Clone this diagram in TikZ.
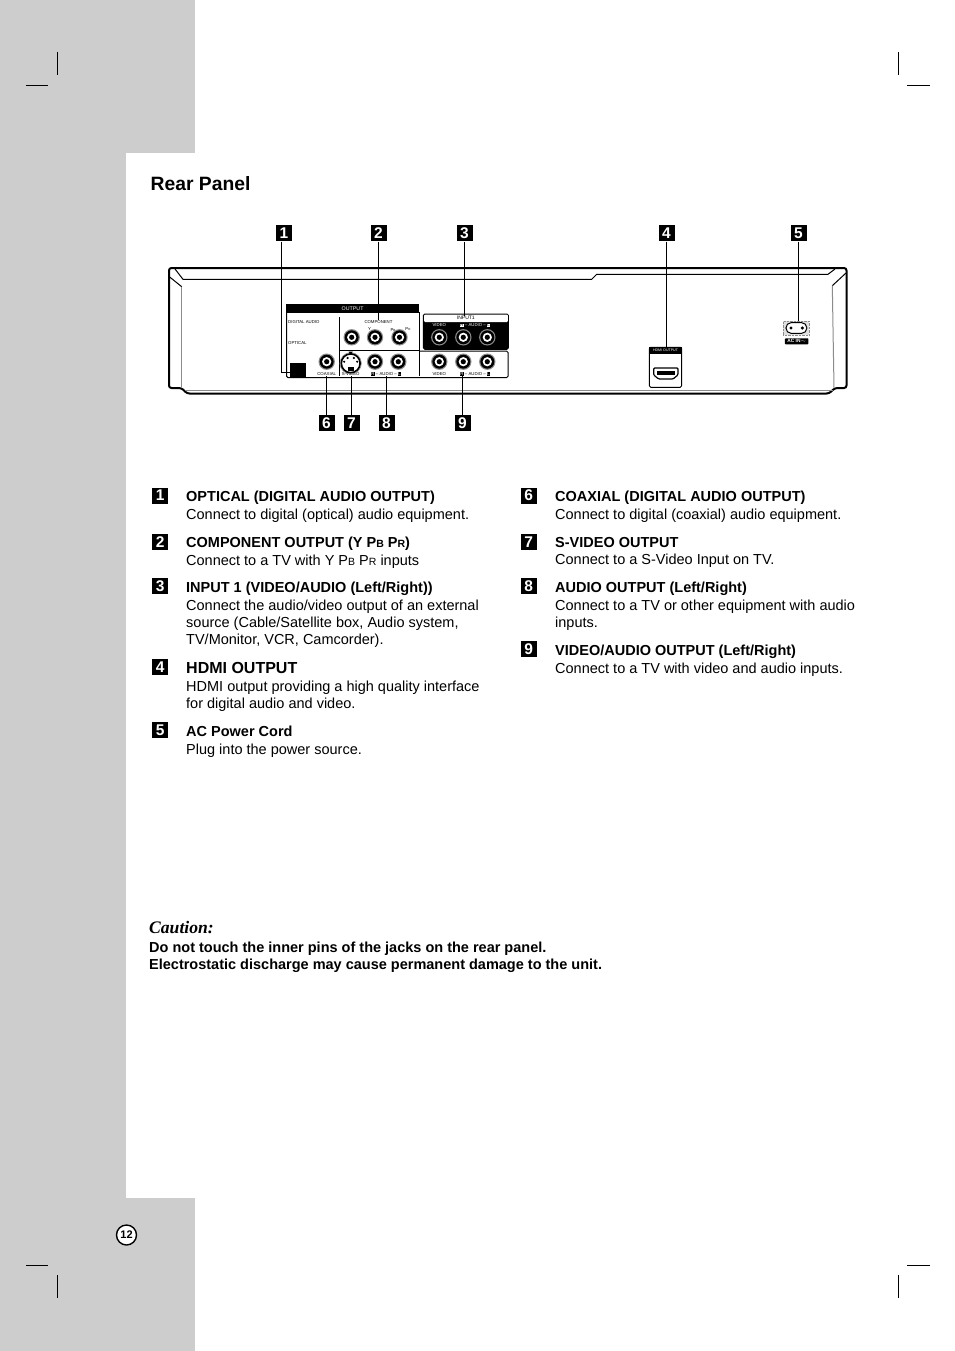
\documentclass[tikz,border=0pt]{standalone}
\usepackage{fontspec}
\setmainfont{Liberation Sans}
\newfontfamily\cautionfont{Liberation Serif}
\usetikzlibrary{positioning}
\definecolor{sidegray}{HTML}{CDCDCD}
\colorlet{ringgray}{black!45}
\newcommand{\smcap}[1]{{\fontsize{10.5}{10.5}\selectfont #1}}
\newcommand{\chbk}[1]{{\setlength{\fboxsep}{.35pt}\colorbox{black}{\textcolor{white}{#1}}}}
\newcommand{\chwh}[1]{{\setlength{\fboxsep}{.35pt}\colorbox{white}{\textcolor{black}{#1}}}}
\tikzset{
  numtag/.style={fill=black,text=white,minimum size=16pt,inner sep=0pt,font=\fontsize{15.5}{16}\selectfont\bfseries},
  itemtext/.style={anchor=north west,inner sep=0pt,align=left,font=\fontsize{14.5}{17.3}\selectfont},
  tinylabel/.style={inner sep=0pt,font=\fontsize{4.3}{5}\selectfont},
  tagline/.style={line width=1pt},
  panelline/.style={line width=1pt},
  cropmark/.style={line width=.7pt},
  jack/.pic={
    \fill[ringgray] (0,0) circle (8.2);
    \fill[black] (0,0) circle (7);
    \fill[white] (0,0) circle (4.6);
    \fill[black] (0,0) circle (2.6);
  }
}
\begin{document}
\begin{tikzpicture}[x=1pt,y=-1pt]
\useasboundingbox (0,0) rectangle (954,1351);
\fill[white] (0,0) rectangle (954,1351);
\fill[sidegray] (0,0) rectangle (126,1351);
\fill[sidegray] (126,0) rectangle (195,153);
\fill[sidegray] (126,1198) rectangle (195,1351);
% crop marks
\draw[cropmark] (57.5,52) -- (57.5,75);
\draw[cropmark] (26,85) -- (48,85);
\draw[cropmark] (898.5,52) -- (898.5,75);
\draw[cropmark] (907,85) -- (930,85);
\draw[cropmark] (26,1265) -- (48,1265);
\draw[cropmark] (57.5,1275) -- (57.5,1298);
\draw[cropmark] (907,1265) -- (930,1265);
\draw[cropmark] (898.5,1275) -- (898.5,1298);
\node[anchor=base west,inner sep=0pt,font=\fontsize{19.3}{19}\selectfont\bfseries] (title) at (150.5,190) {Rear Panel};
% chassis
\draw[line width=2pt,rounded corners=2.5] (187,393.5) -- (181.5,388) -- (169,388) -- (169,268) -- (846.5,268) -- (846.5,388) -- (835,388) -- (829,393.5) -- cycle;
\draw[panelline] (175,269) -- (183,279.3) -- (591.7,279.3) -- (596.7,274.3) -- (828,274.3) -- (835,269);
\draw[panelline] (169.3,276.7) -- (181.7,286.7);
\draw[panelline] (846,273) -- (832.3,285.7);
\draw[panelline,ringgray] (181.7,286.7) -- (181.7,388);
\draw[panelline,ringgray] (832.3,285.7) -- (834,388);
\draw[panelline,ringgray] (185,390.3) -- (833,390.3);
% output block
\draw[panelline,rounded corners=1.5] (286.5,312) -- (286.5,377.7) -- (508,377.7) -- (508,351) -- (419.3,351);
\draw[panelline] (339.3,317) -- (339.3,376);
\draw[panelline] (339.3,350) -- (419.3,350);
\draw[panelline] (419.3,312) -- (419.3,376);
\node[fill=black,text=white,minimum width=133.5pt,minimum height=8.7pt,inner sep=0pt,font=\fontsize{5.3}{6}\selectfont] (outputhead) at (352.6,308.4) {OUTPUT};
\node[tinylabel,anchor=west] (digital) at (288,321.7) {DIGITAL AUDIO};
\node[tinylabel,anchor=west] (optlabel) at (288,343) {OPTICAL};
\node[tinylabel] (component) at (378.5,321.7) {COMPONENT};
\node[tinylabel] (ylabel) at (369.5,329) {Y};
\node[tinylabel] (pblabel) at (393,330) {P\smcap{\fontsize{3}{3}\selectfont B}};
\node[tinylabel] (prlabel) at (408,329) {P\smcap{\fontsize{3}{3}\selectfont R}};
\node[tinylabel] (coaxlabel) at (326.7,374) {COAXIAL};
\node[tinylabel] (svideolabel) at (350.7,374) {S-VIDEO};
\node[tinylabel] (audiolabel) at (386,374) {\chbk{R} -- AUDIO -- \chbk{L}};
\node[tinylabel] (videolabel) at (439.3,374) {VIDEO};
\node[tinylabel] (audiotwo) at (475,374) {\chbk{R} -- AUDIO -- \chbk{L}};
\node[draw=black,fill=black,minimum width=15.5pt,minimum height=13.5pt,inner sep=0pt] (optical) at (297.5,369.7) {};
\pic at (351.7,337.3) {jack};
\pic at (375,337.3) {jack};
\pic at (399.5,337.3) {jack};
\pic at (326.7,361.7) {jack};
\pic at (375,361.7) {jack};
\pic at (398.3,361.7) {jack};
\pic at (439.3,361.7) {jack};
\pic at (463.3,361.7) {jack};
\pic at (487.3,361.7) {jack};
% s-video
\draw[fill=white,line width=1.8pt] (350.7,363.3) circle (9.5);
\draw[ringgray,line width=.6pt] (350.7,363.3) circle (10.7);
\fill (348.5,351.5) -- (352.9,351.5) -- (350.7,354.5) -- cycle;
\fill (347.6,367) rectangle (353.8,371);
\fill (344.2,361.7) circle (1.2);
\fill (357.2,361.7) circle (1.2);
\fill (347.6,358) circle (1.2);
\fill (353.8,358) circle (1.2);
% input block
\draw[panelline,fill=black,rounded corners=1.5] (423.3,314) rectangle (508.3,349.3);
\fill[white,rounded corners=1] (424,314.5) rectangle (507.8,322);
\node[tinylabel,font=\fontsize{5}{6}\selectfont] (inputhead) at (465.8,318.2) {INPUT1};
\node[tinylabel,text=white] (videoin) at (439.3,325.5) {VIDEO};
\node[tinylabel,text=white] (audioin) at (475,325.5) {\chwh{R} -- AUDIO -- \chwh{L}};
\pic at (439.3,337.3) {jack};
\pic at (463.3,337.3) {jack};
\pic at (487.3,337.3) {jack};
% hdmi
\draw[panelline,rounded corners=1.5] (649.3,347.3) rectangle (681.7,387.3);
\node[fill=black,text=white,minimum width=32.4pt,minimum height=6.7pt,inner sep=0pt,font=\fontsize{3.6}{4}\selectfont] (hdmihead) at (665.5,350.7) {HDMI OUTPUT};
\draw[line width=1.2pt,fill=white,rounded corners=1] (653.7,368) -- (677.9,368) -- (677.9,375) -- (673,379) -- (658.6,379) -- (653.7,375) -- cycle;
\fill (657,370.8) rectangle (674.6,374.6);
% ac inlet
\node[draw=ringgray,densely dotted,fill=black!12,minimum width=26pt,minimum height=13.4pt,inner sep=0pt] (acbox) at (796.3,328) {};
\draw[line width=1pt,fill=white] (791.3,322.6) -- (801.5,322.6) arc (-90:90:5.4) -- (791.3,333.4) arc (90:270:5.4) -- cycle;
\fill (791,328) circle (1.7);
\fill (802.3,328) circle (1.7);
\node[fill=black,text=white,rounded corners=.8,minimum width=23.5pt,minimum height=6pt,inner sep=0pt,font=\fontsize{4.8}{5}\selectfont\bfseries] (aclabel) at (796.7,341.3) {AC IN$\sim$};
% number tags on the panel
\node[numtag] (tag1) at (284,233.3) {1};
\node[numtag] (tag2) at (378.5,233.3) {2};
\node[numtag] (tag3) at (464.5,233.3) {3};
\node[numtag] (tag4) at (666.5,233.3) {4};
\node[numtag] (tag5) at (798.5,233.3) {5};
\node[numtag] (tag6) at (326.5,423.3) {6};
\node[numtag] (tag7) at (351.5,423.3) {7};
\node[numtag] (tag8) at (386.5,423.3) {8};
\node[numtag] (tag9) at (462.5,423.3) {9};
\coordinate (bend1) at (281.5,372.5);
\draw[tagline] (bend1 |- tag1.south) -- (bend1) -- (optical.west |- bend1);
\draw[tagline] (tag2.south) -- (component.north);
\draw[tagline] (tag3.south) -- (tag3.south |- inputhead.north);
\draw[tagline] (tag4.south) -- (tag4.south |- hdmihead.north);
\draw[tagline] (tag5.south) -- (tag5.south |- acbox.north);
\draw[tagline] (tag6.north) -- (tag6.north |- coaxlabel.south);
\draw[tagline] (tag7.north) -- (tag7.north |- svideolabel.south);
\draw[tagline] (tag8.north) -- (tag8.north |- audiolabel.south);
\draw[tagline] (tag9.north) -- (tag9.north |- audiotwo.south);
% left column
\node[numtag] (list1) at (160.3,495.5) {1};
\node[itemtext] (item1) at (186,491) {\textbf{OPTICAL (DIGITAL AUDIO OUTPUT)}\\Connect to digital (optical) audio equipment.};
\node[numtag] (list2) at (160.3,541.7) {2};
\node[itemtext] (item2) at (186,537) {\textbf{COMPONENT OUTPUT (Y P\smcap{B} P\smcap{R})}\\Connect to a TV with Y P\smcap{B} P\smcap{R} inputs};
\node[numtag] (list3) at (160.3,586) {3};
\node[itemtext] (item3) at (186,582) {\textbf{INPUT 1 (VIDEO/AUDIO (Left/Right))}\\Connect the audio/video output of an external\\source (Cable/Satellite box, Audio system,\\TV/Monitor, VCR, Camcorder).};
\node[numtag] (list4) at (160.3,667) {4};
\node[itemtext] (item4) at (186,662.5) {{\fontsize{16}{17.3}\selectfont\textbf{HDMI OUTPUT}}\\HDMI output providing a high quality interface\\for digital audio and video.};
\node[numtag] (list5) at (160.3,730) {5};
\node[itemtext] (item5) at (186,726) {\textbf{AC Power Cord}\\Plug into the power source.};
% right column
\node[numtag] (list6) at (528.7,495.5) {6};
\node[itemtext] (item6) at (555,491) {\textbf{COAXIAL (DIGITAL AUDIO OUTPUT)}\\Connect to digital (coaxial) audio equipment.};
\node[numtag] (list7) at (528.7,541.7) {7};
\node[itemtext] (item7) at (555,537) {\textbf{S-VIDEO OUTPUT}\\Connect to a S-Video Input on TV.};
\node[numtag] (list8) at (528.7,586) {8};
\node[itemtext] (item8) at (555,582) {\textbf{AUDIO OUTPUT (Left/Right)}\\Connect to a TV or other equipment with audio\\inputs.};
\node[numtag] (list9) at (528.7,649) {9};
\node[itemtext] (item9) at (555,645) {\textbf{VIDEO/AUDIO OUTPUT (Left/Right)}\\Connect to a TV with video and audio inputs.};
% caution
\node[anchor=base west,inner sep=0pt,font=\cautionfont\fontsize{17.6}{19}\selectfont\bfseries\itshape] (caution) at (149,933) {Caution:};
\node[itemtext,font=\fontsize{14.5}{17}\selectfont\bfseries] (cautiontext) at (149,942) {Do not touch the inner pins of the jacks on the rear panel.\\Electrostatic discharge may cause permanent damage to the unit.};
% page number
\node[circle,draw=black,fill=white,line width=1.4pt,minimum size=20pt,inner sep=0pt,font=\fontsize{11}{11}\selectfont\bfseries] (pagenum) at (126.5,1235) {12};
\end{tikzpicture}
\end{document}
